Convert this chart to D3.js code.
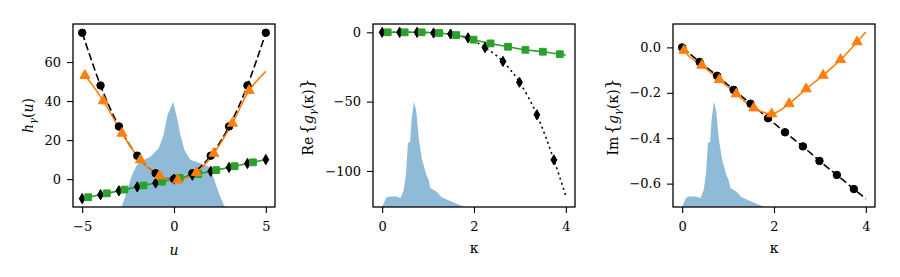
<!DOCTYPE html>
<html lang="en">
	<head>
		<meta charset="utf-8">
		<title>h and g panels</title>
		<script type="text/javascript" src="https://cdn.jsdelivr.net/npm/d3@7"></script>
		<style type="text/css">
			body { margin: 0; background: #fff; }
			text { font-family: "DejaVu Serif", serif; fill: #000; }
			.tick text { font-size: 13px; }
			.tick line, .domain { stroke: #000; }
		</style>
	</head>
	<body>
		<script type="text/javascript">

			//Panel 1: h_gamma(u)
			var uCirc = [-5, -4, -3, -2, -1, 0, 1, 2, 3, 4, 5];
			var hCirc = [75, 48, 27, 12, 3, 0, 3, 12, 27, 48, 75];
			var uDiam = [-5, -4, -3, -2, -1, 0, 1, 2, 3, 4, 5];
			var hDiam = [-10, -8, -6, -4, -2, 0, 2, 4, 6, 8, 10];
			var uSq = [-4.67, -3.66, -2.7, -1.66, -0.65, 0.31, 1.32, 2.3, 3.3, 4.3];
			var hSq = [-9.3, -7.3, -5.4, -3.3, -1.3, 0.6, 2.6, 4.6, 6.6, 8.6];
			var uSqLine = [-5, -4.67, -3.66, -2.7, -1.66, -0.65, 0.31, 1.32, 2.3, 3.3, 4.3, 5];
			var hSqLine = [-10, -9.3, -7.3, -5.4, -3.3, -1.3, 0.6, 2.6, 4.6, 6.6, 8.6, 10];
			var uTri = [-4.85, -3.85, -2.83, -1.83, -0.79, 0.2, 1.22, 2.17, 3.18, 4.09];
			var hTri = [53.1, 40.1, 23.5, 9.8, 1.7, -0.5, 3.4, 13.2, 28.6, 45.4];
			var uTriLine = [-5, -4.85, -3.85, -2.83, -1.83, -0.79, 0.2, 1.22, 2.17, 3.18, 4.09, 5];
			var hTriLine = [54.5, 53.1, 40.1, 23.5, 9.8, 1.7, -0.5, 3.4, 13.2, 28.6, 45.4, 55.2];
			var uDens = [-2.85, -2.57, -2.3, -2.02, -1.66, -1.29, -0.84, -0.57, -0.35, -0.05, 0.13, 0.35, 0.57, 0.9, 1.44, 1.9, 2.17, 2.44, 2.72, 2.81];
			var dDens = [0, 0.145, 0.3, 0.4, 0.446, 0.478, 0.557, 0.684, 0.874, 1, 0.874, 0.684, 0.541, 0.446, 0.415, 0.383, 0.272, 0.13, 0.02, 0];

			//Panels 2 and 3: kappa grid
			var kMk = [0, 0.38, 0.76, 1.12, 1.49, 1.87, 2.24, 2.63, 2.99, 3.37, 3.74];
			var reDiam = [0, 0, 0, -0.5, -1.2, -4, -11, -21, -36, -59.5, -92];
			var kDotLine = [0, 0.38, 0.76, 1.12, 1.49, 1.87, 2.24, 2.63, 2.99, 3.37, 3.74, 4];
			var reDotLine = [0, 0, 0, -0.5, -1.2, -4, -11, -21, -36, -59.5, -92, -118];
			var kSq = [0.12, 0.49, 0.86, 1.24, 1.61, 1.99, 2.36, 2.74, 3.12, 3.5, 3.87];
			var reSq = [0, 0, 0, -0.5, -2, -5.3, -8, -10.4, -12.6, -14, -15.8];
			var kSqLine = [0, 0.12, 0.49, 0.86, 1.24, 1.61, 1.99, 2.36, 2.74, 3.12, 3.5, 3.87, 4];
			var reSqLine = [0, 0, 0, 0, -0.5, -2, -5.3, -8, -10.4, -12.6, -14, -15.8, -16.4];

			var imCirc = [0, -0.064, -0.125, -0.187, -0.248, -0.312, -0.374, -0.436, -0.5, -0.562, -0.624];
			var kDashLine = [0, 0.38, 0.76, 1.12, 1.49, 1.87, 2.24, 2.63, 2.99, 3.37, 3.74, 4];
			var imDashLine = [0, -0.064, -0.125, -0.187, -0.248, -0.312, -0.374, -0.436, -0.5, -0.562, -0.624, -0.667];
			var kTri = [0.04, 0.43, 0.81, 1.18, 1.56, 1.95, 2.33, 2.7, 3.07, 3.45, 3.81];
			var imTri = [-0.013, -0.079, -0.142, -0.205, -0.267, -0.293, -0.248, -0.183, -0.123, -0.054, 0.024];
			var kTriLine = [0, 0.04, 0.43, 0.81, 1.18, 1.56, 1.95, 2.33, 2.7, 3.07, 3.45, 3.81, 4];
			var imTriLine = [0, -0.013, -0.079, -0.142, -0.205, -0.267, -0.293, -0.248, -0.183, -0.123, -0.054, 0.024, 0.068];

			var kDens = [0, 0.08, 0.15, 0.3, 0.4, 0.47, 0.52, 0.56, 0.61, 0.64, 0.69, 0.74, 0.8, 0.87, 0.96, 1.01, 1.05, 1.18, 1.29, 1.44, 1.62, 1.8];
			var dKDens = [0, 0.085, 0.1, 0.1, 0.085, 0.164, 0.32, 0.606, 0.62, 0.83, 1, 0.92, 0.64, 0.45, 0.31, 0.26, 0.18, 0.148, 0.095, 0.063, 0.031, 0];

			//Tick values
			var uTicks = [-5, 0, 5];
			var hTicks = [0, 20, 40, 60];
			var kTicks = [0, 2, 4];
			var reTicks = [0, -50, -100];
			var imTicks = [0, -0.2, -0.4, -0.6];

			var zip = function (xs, ys) { return xs.map(function (x, i) { return [x, ys[i]]; }); };

			//Width and height
			var w = 900;
			var h = 277;
			var axTop = 24, axBot = 207, pw = 202;

			var svg = d3.select("body")
						.append("svg")
						.attr("width", w)
						.attr("height", h);

			var colors = { black: "#000", orange: "#ff7f0e", green: "#2ca02c", blue: "#1f77b4" };

			var panels = [
				{ left: 73, xd: [-5.5, 5.5], yd: [-14.3, 79.5], xt: uTicks, yt: hTicks, yf: d3.format("d"),
				  dens: zip(uDens, dDens),
				  lines: [
					{ pts: zip(uCirc, hCirc), color: colors.black, dash: "7.5,3.3", curve: d3.curveNatural },
					{ pts: zip(uSqLine, hSqLine), color: colors.green, curve: d3.curveLinear },
					{ pts: zip(uTriLine, hTriLine), color: colors.orange, curve: d3.curveCatmullRom }
				  ],
				  marks: [
					{ pts: zip(uCirc, hCirc), color: colors.black, sym: d3.symbolCircle, size: 44 },
					{ pts: zip(uDiam, hDiam), color: colors.black, sym: d3.symbolDiamond, size: 30 },
					{ pts: zip(uSq, hSq), color: colors.green, sym: d3.symbolSquare, size: 46 },
					{ pts: zip(uTri, hTri), color: colors.orange, sym: d3.symbolTriangle, size: 44 }
				  ] },
				{ left: 373, xd: [-0.2, 4.2], yd: [-126, 6], xt: kTicks, yt: reTicks, yf: d3.format("d"),
				  dens: zip(kDens, dKDens),
				  lines: [
					{ pts: zip(kDotLine, reDotLine), color: colors.black, dash: "2,3.4", curve: d3.curveMonotoneX },
					{ pts: zip(kSqLine, reSqLine), color: colors.green, curve: d3.curveMonotoneX }
				  ],
				  marks: [
					{ pts: zip(kMk, reDiam), color: colors.black, sym: d3.symbolDiamond, size: 30 },
					{ pts: zip(kSq, reSq), color: colors.green, sym: d3.symbolSquare, size: 46 }
				  ] },
				{ left: 673, xd: [-0.2, 4.2], yd: [-0.703, 0.103], xt: kTicks, yt: imTicks, yf: d3.format(".1f"),
				  dens: zip(kDens, dKDens),
				  lines: [
					{ pts: zip(kDashLine, imDashLine), color: colors.black, dash: "7.5,3.3", curve: d3.curveLinear },
					{ pts: zip(kTriLine, imTriLine), color: colors.orange, curve: d3.curveMonotoneX }
				  ],
				  marks: [
					{ pts: zip(kMk, imCirc), color: colors.black, sym: d3.symbolCircle, size: 44 },
					{ pts: zip(kTri, imTri), color: colors.orange, sym: d3.symbolTriangle, size: 44 }
				  ] }
			];

			panels.forEach(function (p, i) {
				var x = d3.scaleLinear().domain(p.xd).range([p.left, p.left + pw]);
				var y = d3.scaleLinear().domain(p.yd).range([axBot, axTop]);
				//density drawn up to 57.5% of the axes height
				var yDens = d3.scaleLinear().domain([0, 1]).range([axBot, axBot - 0.575 * (axBot - axTop)]);

				svg.append("clipPath").attr("id", "clip" + i)
				   .append("rect")
				   .attr("x", p.left).attr("y", axTop)
				   .attr("width", pw).attr("height", axBot - axTop);

				var g = svg.append("g").attr("clip-path", "url(#clip" + i + ")");

				var area = d3.area()
							 .x(function (d) { return x(d[0]); })
							 .y0(axBot)
							 .y1(function (d) { return yDens(d[1]); });

				g.append("path")
				 .attr("d", area(p.dens))
				 .style("fill", colors.blue)
				 .style("fill-opacity", 0.5);

				p.lines.forEach(function (l) {
					var line = d3.line()
								 .x(function (d) { return x(d[0]); })
								 .y(function (d) { return y(d[1]); })
								 .curve(l.curve);
					g.append("path")
					 .attr("d", line(l.pts))
					 .style("fill", "none")
					 .style("stroke", l.color)
					 .style("stroke-width", 1.6)
					 .style("stroke-dasharray", l.dash || null);
				});

				p.marks.forEach(function (m) {
					g.selectAll(null)
					 .data(m.pts)
					 .enter()
					 .append("path")
					 .attr("transform", function (d) { return "translate(" + x(d[0]) + "," + y(d[1]) + ")"; })
					 .attr("d", d3.symbol().type(m.sym).size(m.size))
					 .style("fill", m.color)
					 .style("stroke", m.color)
					 .style("stroke-width", 1);
				});

				//Axes
				svg.append("g")
				   .attr("transform", "translate(0," + axBot + ")")
				   .call(d3.axisBottom(x).tickValues(p.xt).tickSize(6).tickPadding(9).tickFormat(d3.format("d")))
				   .call(function (a) { a.select(".domain").remove(); });

				svg.append("g")
				   .attr("transform", "translate(" + p.left + ",0)")
				   .call(d3.axisLeft(y).tickValues(p.yt).tickSize(6).tickPadding(6).tickFormat(p.yf))
				   .call(function (a) { a.select(".domain").remove(); });

				svg.selectAll(".tick line").style("stroke-width", 1.1);
				svg.selectAll(".tick text").attr("font-family", null);

				svg.append("rect")
				   .attr("x", p.left).attr("y", axTop)
				   .attr("width", pw).attr("height", axBot - axTop)
				   .style("fill", "none")
				   .style("stroke", "#000")
				   .style("stroke-width", 1.3);

				//x label
				svg.append("text")
				   .attr("x", p.left + pw / 2)
				   .attr("y", i === 0 ? 255 : 252.5)
				   .attr("text-anchor", "middle")
				   .style("font-size", "14px")
				   .style("font-style", i === 0 ? "italic" : "normal")
				   .text(i === 0 ? "u" : "κ");
			});

			//y labels
			var ylab1 = svg.append("text")
						   .attr("transform", "translate(33,115.5) rotate(-90)")
						   .attr("text-anchor", "middle")
						   .style("font-size", "14px");
			ylab1.append("tspan").style("font-style", "italic").text("h");
			ylab1.append("tspan").style("font-style", "italic").style("font-size", "10px").attr("dy", 3).text("γ");
			ylab1.append("tspan").attr("dy", -3).text("(");
			ylab1.append("tspan").style("font-style", "italic").text("u");
			ylab1.append("tspan").text(")");

			[{ x: 313, pre: "Re" }, { x: 618, pre: "Im" }].forEach(function (d) {
				var t = svg.append("text")
						   .attr("transform", "translate(" + d.x + ",117) rotate(-90)")
						   .attr("text-anchor", "middle")
						   .style("font-size", "14px");
				t.append("tspan").text(d.pre);
				t.append("tspan").attr("dx", 2).style("font-size", "17px").text("{");
				t.append("tspan").style("font-style", "italic").text("g");
				t.append("tspan").style("font-style", "italic").style("font-size", "10px").attr("dy", 3).text("γ");
				t.append("tspan").attr("dy", -3).text("(κ)");
				t.append("tspan").style("font-size", "17px").text("}");
			});

		</script>
	</body>
</html>
